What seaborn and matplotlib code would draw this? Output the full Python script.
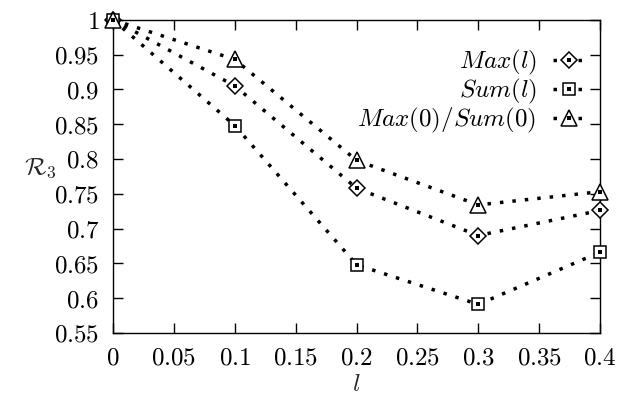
import numpy as np
import pandas as pd
import matplotlib
matplotlib.use("Agg")
import matplotlib.pyplot as plt
import seaborn as sns
from matplotlib.lines import Line2D
from matplotlib.legend_handler import HandlerTuple
from matplotlib.ticker import FuncFormatter

# ---- data ----
l_values = [0.0, 0.1, 0.2, 0.3, 0.4]
max_l = [1.0, 0.905, 0.758, 0.690, 0.726]
sum_l = [1.0, 0.848, 0.648, 0.591, 0.666]
max0_sum0 = [1.0, 0.943, 0.798, 0.734, 0.753]
series_names = [r"$Max(l)$", r"$Sum(l)$", r"$Max(0)/Sum(0)$"]
x_ticks = [0, 0.05, 0.1, 0.15, 0.2, 0.25, 0.3, 0.35, 0.4]
y_ticks = [0.55, 0.6, 0.65, 0.7, 0.75, 0.8, 0.85, 0.9, 0.95, 1.0]

sns.set_theme(style="ticks")
plt.rcParams["mathtext.fontset"] = "cm"
plt.rcParams["font.family"] = ["DejaVu Serif"]

fig = plt.figure(figsize=(6.25, 4.05), dpi=100)
ax = fig.add_axes([0.181, 0.178, 0.779, 0.773])

markers = ["D", "s", "^"]
msizes = [8.5, 9.0, 11.5]
values = [max_l, sum_l, max0_sum0]
dot_style = (0, (1, 2.6))

handles = []
for name, vals, mk, ms in zip(series_names, values, markers, msizes):
    df = pd.DataFrame({"l": l_values, "R": vals})
    sns.lineplot(data=df, x="l", y="R", ax=ax, color="black",
                 linestyle=dot_style, linewidth=2.5, dash_capstyle="butt",
                 marker=mk, markersize=ms, markerfacecolor="white",
                 markeredgecolor="black", markeredgewidth=1.1, zorder=3,
                 clip_on=False, legend=False)
    sns.scatterplot(data=df, x="l", y="R", ax=ax, color="black", s=7,
                    marker="s", linewidth=0, zorder=4, clip_on=False,
                    legend=False)
    h_line = Line2D([], [], color="black", linestyle=dot_style, linewidth=2.5,
                    dash_capstyle="butt", marker=mk, markersize=ms,
                    markerfacecolor="white", markeredgecolor="black",
                    markeredgewidth=1.1)
    h_dot = Line2D([], [], color="black", linestyle="none", marker="s",
                   markersize=2.6, markeredgewidth=0)
    handles.append((h_line, h_dot))

ax.set_xlim(0, 0.4)
ax.set_ylim(0.55, 1.0)
ax.set_xticks(x_ticks)
ax.set_yticks(y_ticks)
fmt = FuncFormatter(lambda v, p: r"$%s$" % ("%g" % round(v, 4)))
ax.xaxis.set_major_formatter(fmt)
ax.yaxis.set_major_formatter(fmt)
ax.tick_params(direction="in", top=True, right=True, length=7, width=1,
               labelsize=18, colors="black")
ax.tick_params(axis="y", pad=10)
ax.tick_params(axis="x", pad=10)
for sp in ax.spines.values():
    sp.set_visible(True)
    sp.set_linewidth(1.0)
    sp.set_color("black")

ax.set_xlabel(r"$l$", fontsize=18, labelpad=2)
ax.set_ylabel(r"$\mathcal{R}_3$", fontsize=18, rotation=0, labelpad=0)
ax.yaxis.set_label_coords(-0.15, 0.49)

leg = ax.legend(handles, series_names, loc="upper right",
                bbox_to_anchor=(0.97, 0.91), frameon=False, markerfirst=False,
                handler_map={tuple: HandlerTuple(ndivide=1, pad=0)},
                fontsize=18, handlelength=1.3, handletextpad=0.65,
                labelspacing=0.0, borderpad=0, borderaxespad=0)
for t in leg.get_texts():
    t.set_color("black")

fig.savefig("out.png", dpi=100)
